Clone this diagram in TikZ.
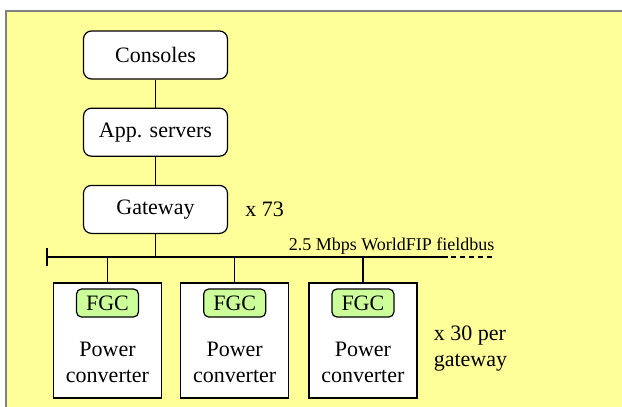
\documentclass[tikz,border=0pt]{standalone}
\usepackage{fontspec}
\setmainfont{Liberation Serif}
\usetikzlibrary{positioning}
\definecolor{panelbg}{HTML}{FFFF99}
\definecolor{fgcgreen}{HTML}{CCFF99}

\begin{document}
\begin{tikzpicture}[x=0.5pt, y=-0.5pt, line width=0.6pt,
  font=\fontsize{11}{13}\selectfont,
  sys/.style={draw, rounded corners=4pt, fill=white, minimum width=72pt, minimum height=24pt, align=center, inner sep=0pt},
  conv/.style={draw, fill=white, minimum width=54pt, minimum height=57.5pt, inner sep=0pt},
  fgc/.style={draw, rounded corners=2.5pt, fill=fgcgreen, minimum width=31pt, minimum height=14pt, inner sep=0pt}]
\useasboundingbox (0,0) rectangle (622,407);
\fill[panelbg] (6,11) rectangle (630,415);
\draw[gray] (6,415) -- (6,11) -- (630,11);
% control chain
\node[sys] (cons) at (155.5,55) {Consoles};
\node[sys, below=14pt of cons] (app) {App. servers};
\node[sys, below=14pt of app] (gw) {Gateway};
\node[right=5pt of gw] (gwcount) {x 73};
\draw (cons) -- (app);
\draw (app) -- (gw);
% fieldbus
\coordinate (busL) at (47,257);
\coordinate (busR) at (448,257);
\coordinate (busD) at (492,257);
\draw (busL) -- (busR);
\draw ([yshift=4.5pt]busL) -- ([yshift=-4.5pt]busL);
\draw[dash pattern=on 2.5pt off 2pt] ([xshift=1.5pt]busR) -- (busD);
\node[font=\fontsize{9}{11}\selectfont, inner sep=0pt, anchor=base east, xshift=1.5pt, yshift=3.5pt] (buslbl) at (busD) {2.5 Mbps WorldFIP fieldbus};
\draw (gw) -- (gw |- busL);
% power converters
\node[conv] (pc1) at (107.5,340.5) {};
\node[conv, right=9pt of pc1] (pc2) {};
\node[conv, right=9.5pt of pc2] (pc3) {};
\foreach \i in {1,2,3} {
  \node[fgc, below=3pt of pc\i.north] (fgc\i) {FGC};
  \node[below=8.5pt of fgc\i, align=center] (lbl\i) {Power\\converter};
  \draw (pc\i.north) -- (pc\i.north |- busL);
}
\node[right=4.5pt of pc3, yshift=-4pt, align=left] (pccount) {x 30 per\\gateway};
\end{tikzpicture}
\end{document}
